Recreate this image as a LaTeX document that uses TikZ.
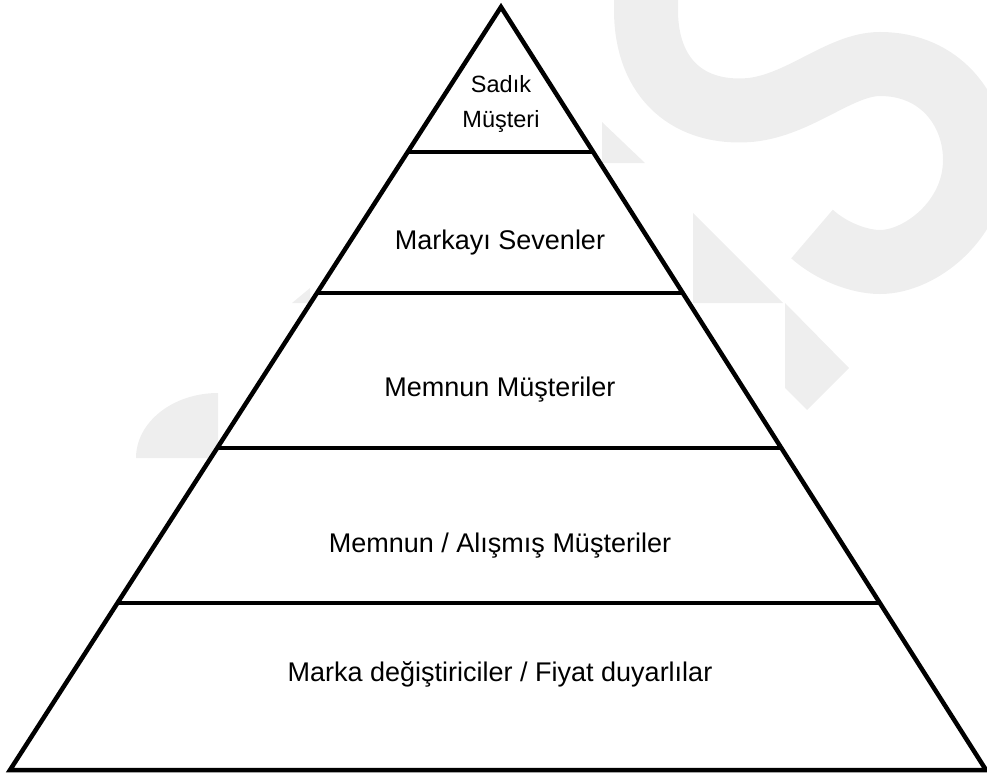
\documentclass[tikz,border=0pt]{standalone}
\usepackage{fontspec}
\setmainfont{Liberation Sans}
\usetikzlibrary{calc}
\begin{document}
\begin{tikzpicture}[x=1pt,y=-1pt,
  tier/.style={line width=4.5pt},
  lbl/.style={font=\fontsize{27}{32}\selectfont,align=center},
  wm/.style={fill=gray!13,draw=none}]
\useasboundingbox (0,0) rectangle (987,774);
\clip (0,0) rectangle (987,774);
\draw[gray!13,line width=64pt] (646,-40) -- (646,10) .. controls (646,80) and (690,115) .. (750,110) .. controls (800,105) and (840,64) .. (880,64) .. controls (940,64) and (975,110) .. (975,160) .. controls (975,220) and (920,262) .. (880,262) .. controls (860,262) and (832,252) .. (812,234);
\fill[wm] (602,122) -- (602,163) -- (645,163) -- cycle;
\fill[wm] (693,213) -- (693,303) -- (783,303) -- cycle;
\fill[wm] (785,303) -- (849,368) -- (807,410) -- (785,388) -- cycle;
\fill[wm] (136,458) .. controls (136,422) and (173,393) .. (218,393) -- (218,458) -- cycle;
\fill[wm] (292,303) -- (310,288) -- (310,303) -- cycle;
\coordinate (top) at (501,7);
\coordinate (bl) at (10,770);
\coordinate (br) at (986,770);
\draw[tier,fill=white,line join=miter] (top) -- (bl) -- (br) -- cycle;
\foreach \t/\n in {0.19/a,0.375/b,0.578/c,0.781/d}
  \draw[tier] ($(top)!\t!(bl)$) coordinate (l\n) -- ($(top)!\t!(br)$) coordinate (r\n);
\node[align=center,font=\fontsize{23.5}{35}\selectfont] (sadik) at (501,104) {Sadık\\Müşteri};
\node[lbl] (seven) at (500,243) {Markayı Sevenler};
\node[lbl] (memnun) at (500,390) {Memnun Müşteriler};
\node[lbl] (alis) at (500,546) {Memnun / Alışmış Müşteriler};
\node[lbl] (fiyat) at (500,674) {Marka değiştiriciler / Fiyat duyarlılar};
\end{tikzpicture}
\end{document}
